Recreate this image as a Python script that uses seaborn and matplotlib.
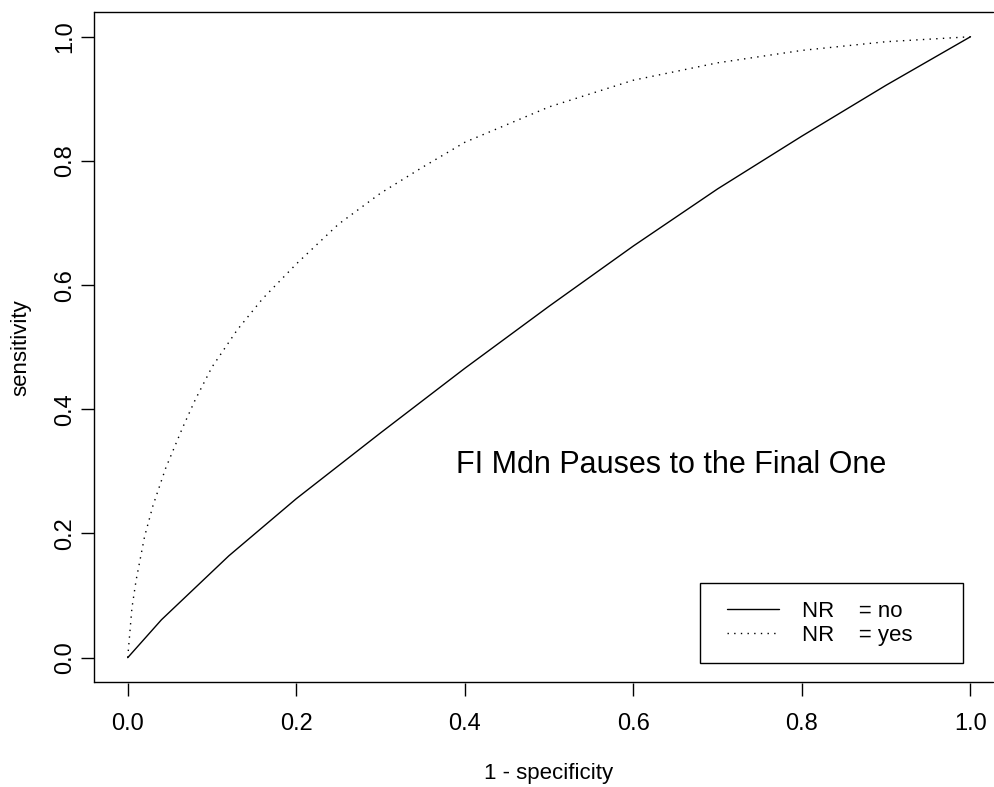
import numpy as np
import pandas as pd
import matplotlib
matplotlib.use("Agg")
import matplotlib.pyplot as plt
from matplotlib.patches import Rectangle
import seaborn as sns

# ---- data ----
fpr_no = [0.0, 0.04, 0.12, 0.2, 0.3, 0.4, 0.5, 0.6, 0.7, 0.8, 0.9, 1.0]
tpr_no = [0.0, 0.061, 0.164, 0.256, 0.362, 0.466, 0.566, 0.663, 0.755,
          0.840, 0.922, 1.0]

fpr_yes = [0.0, 0.005, 0.01, 0.02, 0.03, 0.045, 0.065, 0.08, 0.1, 0.13,
           0.16, 0.2, 0.25, 0.3, 0.35, 0.4, 0.5, 0.6, 0.7, 0.8, 0.9, 1.0]
tpr_yes = [0.0, 0.08, 0.125, 0.195, 0.245, 0.305, 0.37, 0.415, 0.468,
           0.528, 0.578, 0.634, 0.698, 0.748, 0.79, 0.83, 0.887, 0.93,
           0.958, 0.978, 0.992, 1.0]

groups = ["no", "yes"]
legend_labels = ["NR    = no", "NR    = yes"]
tick_vals = [0.0, 0.2, 0.4, 0.6, 0.8, 1.0]
tick_labels = ["0.0", "0.2", "0.4", "0.6", "0.8", "1.0"]
annotation = "FI Mdn Pauses to the Final One"
xlabel = "1 - specificity"
ylabel = "sensitivity"

df = pd.concat([
    pd.DataFrame({"fpr": fpr_no, "tpr": tpr_no, "NR": groups[0]}),
    pd.DataFrame({"fpr": fpr_yes, "tpr": tpr_yes, "NR": groups[1]}),
], ignore_index=True)

sns.set_style("white")
plt.rcParams["font.family"] = ["Liberation Sans", "DejaVu Sans"]
plt.rcParams["text.color"] = "black"
plt.rcParams["axes.labelcolor"] = "black"
plt.rcParams["xtick.color"] = "black"
plt.rcParams["ytick.color"] = "black"

W, H = 995, 787
fig = plt.figure(figsize=(W / 100, H / 100), dpi=100)
# the plot box runs off the right edge of the canvas in the reference
ax = fig.add_axes([94 / W, 1 - 682.5 / H, (W - 94) / W, 670.6 / H])

sns.lineplot(data=df, x="fpr", y="tpr", style="NR", style_order=groups,
             dashes={"no": "", "yes": (1, 3.8)}, color="black", lw=1.0,
             estimator=None, sort=False, legend=False, ax=ax)

x_lo, y_lo, y_hi = -0.04, -0.04, 1.04
ax.set_xlim(x_lo, x_lo + 1.08 * (W - 94) / (1004.2 - 94))
ax.set_ylim(y_lo, y_hi)
ax.set_xticks(tick_vals)
ax.set_xticklabels(tick_labels)
ax.set_yticks(tick_vals)
ax.set_yticklabels(tick_labels, rotation=90, va="center")

# plot box: left spine plus top/bottom edges (right edge is off-canvas)
for s in ax.spines.values():
    s.set_visible(False)
ax.spines["left"].set_visible(True)
ax.spines["left"].set_color("black")
ax.spines["left"].set_linewidth(1.0)
edge_end = (W - 1.5 - 94) / (W - 94)
ax.axhline(y_hi, xmax=edge_end, color="black", lw=1.0, clip_on=False)
ax.axhline(y_lo, xmax=edge_end, color="black", lw=1.0, clip_on=False)

ax.tick_params(axis="both", direction="out", length=9.4, width=1.0,
               labelsize=17, colors="black", bottom=True, left=True,
               top=False, right=False)
ax.tick_params(axis="x", pad=12.5)
ax.tick_params(axis="y", pad=3.6)

ax.set_xlabel(xlabel, fontsize=16, va="baseline", color="black")
ax.set_ylabel(ylabel, fontsize=16, va="baseline", color="black")
ax.xaxis.set_label_coords((549 - 94) / (W - 94), -0.1443)
ax.yaxis.set_label_coords(-(94 - 26.7) / (W - 94), 0.5)

ax.text(0.6445, 0.298, annotation, ha="center", va="baseline", fontsize=22,
        color="black")

handles = ax.lines[:2]
leg = fig.legend(handles, legend_labels, loc="upper left",
                 bbox_to_anchor=(726.7 / W, 1 - 601 / H),
                 bbox_transform=fig.transFigure, frameon=False, borderpad=0,
                 borderaxespad=0, handlelength=2.34, handletextpad=1.05,
                 labelspacing=0.12, fontsize=16)
for t in leg.get_texts():
    t.set_color("black")
fig.add_artist(Rectangle((700 / W, 1 - 662.7 / H), 262.7 / W, 80 / H,
                         transform=fig.transFigure, fill=False,
                         edgecolor="black", linewidth=1.0))

fig.savefig("out.png", dpi=100)
